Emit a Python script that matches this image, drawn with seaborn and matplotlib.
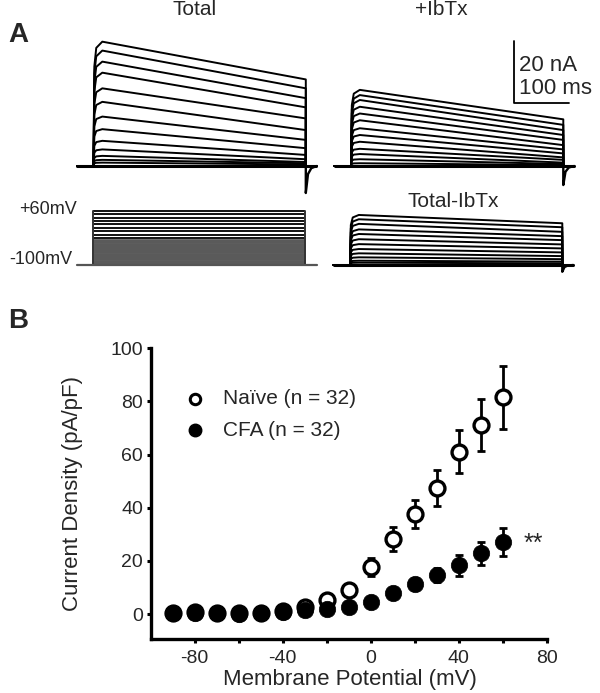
import numpy as np
import pandas as pd
import matplotlib
matplotlib.use("Agg")
import matplotlib.pyplot as plt
import seaborn as sns

# ---------------- data ----------------
# Panel B: I-V relationship
potential_mv = [-90, -80, -70, -60, -50, -40, -30, -20, -10, 0, 10, 20, 30, 40, 50, 60]
naive_mean = [0.5, 0.6, 0.4, 0.4, 0.5, 1.0, 2.6, 5.3, 9.0, 17.8, 28.2, 37.5, 47.5, 61.1, 71.1, 81.6]
naive_sem = [0.3, 0.3, 0.3, 0.3, 0.3, 0.4, 0.8, 1.2, 1.6, 3.3, 4.5, 5.3, 6.7, 8.1, 9.9, 11.8]
cfa_mean = [0.3, 0.4, 0.3, 0.2, 0.3, 0.8, 1.5, 2.0, 2.8, 4.6, 7.8, 11.2, 14.7, 18.4, 22.8, 27.2]
cfa_sem = [0.3, 0.3, 0.3, 0.3, 0.3, 0.4, 0.6, 0.8, 1.0, 1.2, 1.8, 2.3, 2.5, 3.9, 4.5, 5.2]
legend_labels = ["Naïve (n = 32)", "CFA (n = 32)"]
x_ticks = [-80, -60, -40, -20, 0, 20, 40, 60, 80]
x_tick_labels = ["-80", "", "-40", "", "0", "", "40", "", "80"]
y_ticks = [0, 20, 40, 60, 80, 100]

# Panel A: current traces (nA) - peak and end-of-pulse amplitudes
total_peak = [40.5, 37.6, 34.0, 30.4, 25.3, 20.9, 16.1, 12.0, 8.2, 5.4, 3.3, 2.0, 1.1]
total_end = [28.2, 25.3, 22.1, 19.1, 15.5, 11.7, 8.5, 5.8, 3.6, 2.2, 1.3, 0.9, 0.5]
ibtx_peak = [24.8, 23.1, 21.5, 19.3, 17.1, 14.9, 12.3, 10.1, 7.9, 5.6, 3.9, 2.2, 0.9]
ibtx_end = [15.2, 13.4, 11.7, 10.1, 8.5, 6.8, 5.4, 4.1, 2.8, 2.0, 1.1, 0.65, 0.3]
diff_peak = [16.3, 14.9, 13.4, 11.6, 10.1, 8.4, 6.8, 5.2, 3.8, 2.5, 1.4, 0.75]
diff_end = [13.6, 12.3, 10.8, 9.4, 8.1, 6.7, 5.4, 4.1, 2.9, 1.9, 1.1, 0.55]
tail_na = {"total": -8.8, "ibtx": -6.2, "diff": -2.2}
pulse_ms = 386
holding_mv = -100
step_mv = [-90, -80, -70, -60, -50, -40, -30, -20, -10, 0, 10, 20, 30, 40, 50, 60]

# ---------------- style ----------------
sns.set_theme(style="ticks")
plt.rcParams["font.family"] = ["Liberation Sans", "DejaVu Sans"]
plt.rcParams["axes.unicode_minus"] = False

W, H = 600, 693
fig = plt.figure(figsize=(W / 100, H / 100), dpi=100)

PX_MS = 0.55   # px per ms
PX_NA = 3.07   # px per nA
PX_MV = 0.3375 # px per mV


def px_axes(x0, x1, y0, y1):
    return fig.add_axes([x0 / W, 1 - y1 / H, (x1 - x0) / W, (y1 - y0) / H])


def trace_axes(x0, x1, y0, y1, onset_px, base_px):
    ax = px_axes(x0, x1, y0, y1)
    ax.set_xlim((x0 - onset_px) / PX_MS, (x1 - onset_px) / PX_MS)
    ax.set_ylim((base_px - y1) / PX_NA, (base_px - y0) / PX_NA)
    ax.axis("off")
    return ax


def draw_traces(ax, peaks, ends, tail):
    for pk, en in zip(peaks, ends):
        t = [-30, 0, 1.5, 5, 16, pulse_ms, pulse_ms, 405]
        i = [0, 0, 0.8 * pk, 0.95 * pk, pk, en, 0, 0]
        ax.plot(t, i, color="black", lw=1.4, solid_joinstyle="round")
    ax.plot([pulse_ms, pulse_ms, pulse_ms + 4, pulse_ms + 10, pulse_ms + 20],
            [0, tail, tail * 0.3, tail * 0.08, 0], color="black", lw=1.7)
    ax.plot([-30, 405], [0, 0], color="black", lw=2.2)


ax_tot = trace_axes(60, 320, 25, 200, 93.5, 166)
draw_traces(ax_tot, total_peak, total_end, tail_na["total"])

ax_ib = trace_axes(325, 600, 25, 200, 351, 166)
draw_traces(ax_ib, ibtx_peak, ibtx_end, tail_na["ibtx"])
# scale bar
sb_x, sb_y = (514 - 351) / PX_MS, (166 - 102.7) / PX_NA
ax_ib.plot([sb_x, sb_x, sb_x + 100], [sb_y + 20, sb_y, sb_y], color="black", lw=1.3,
           clip_on=False)
ax_ib.text(sb_x + 9, sb_y + 10.2, "20 nA", fontsize=16, va="baseline", ha="left", clip_on=False)
ax_ib.text(sb_x + 9, sb_y + 2.8, "100 ms", fontsize=16, va="baseline", ha="left", clip_on=False)

ax_df = trace_axes(325, 600, 205, 285, 350, 265)
draw_traces(ax_df, diff_peak, diff_end, tail_na["diff"])

# voltage protocol
ax_v = px_axes(60, 320, 200, 272)
ax_v.set_xlim((60 - 92.7) / PX_MS, (320 - 92.7) / PX_MS)
ax_v.set_ylim(holding_mv - 7 / PX_MV, holding_mv + 65 / PX_MV)
ax_v.axis("off")
for v in step_mv:
    dark = v > -30
    ax_v.plot([0, pulse_ms], [v, v], color="black" if dark else "#5a5a5a",
              lw=1.3 if dark else 3.4, solid_capstyle="butt")
ax_v.plot([0, 0], [holding_mv, max(step_mv)], color="#333333", lw=1.4)
ax_v.plot([pulse_ms, pulse_ms], [holding_mv, max(step_mv)], color="#333333", lw=1.4)
ax_v.plot([-29, 407], [holding_mv, holding_mv], color="#555555", lw=1.6)

fig.text(77 / W, 1 - 209 / H, "+60mV", fontsize=13, ha="right", va="center")
fig.text(72 / W, 1 - 260 / H, "-100mV", fontsize=13, ha="right", va="center")

fig.text(195 / W, 1 - 15 / H, "Total", fontsize=15, ha="center", va="baseline")
fig.text(441.5 / W, 1 - 15 / H, "+IbTx", fontsize=15, ha="center", va="baseline")
fig.text(453.5 / W, 1 - 207 / H, "Total-IbTx", fontsize=15, ha="center", va="baseline")

fig.text(8 / W, 1 - 42 / H, "A", fontsize=20, fontweight="bold", ha="left", va="baseline")
fig.text(8 / W, 1 - 328 / H, "B", fontsize=20, fontweight="bold", ha="left", va="baseline")

# ---------------- panel B ----------------
axb = px_axes(150.7, 546.7, 348.3, 639.3)
df_n = pd.DataFrame({"mv": potential_mv, "cd": naive_mean, "err": naive_sem})
df_c = pd.DataFrame({"mv": potential_mv, "cd": cfa_mean, "err": cfa_sem})

axb.errorbar(df_n["mv"], df_n["cd"], yerr=df_n["err"], fmt="none", ecolor="black",
             elinewidth=2, capsize=3, capthick=2, zorder=2)
sns.scatterplot(data=df_n, x="mv", y="cd", ax=axb, marker="o", s=115,
                facecolor="white", edgecolor="black", linewidth=2.4, zorder=3)
axb.errorbar(df_c["mv"], df_c["cd"], yerr=df_c["err"], fmt="none", ecolor="black",
             elinewidth=2, capsize=3, capthick=2, zorder=4)
sns.scatterplot(data=df_c, x="mv", y="cd", ax=axb, marker="o", s=140,
                color="black", edgecolor="black", linewidth=0.5, zorder=5)

axb.set_xlim(-100, 80)
axb.set_ylim(-9.5, 100)
axb.set_xticks(x_ticks)
axb.set_xticklabels(x_tick_labels)
axb.set_yticks(y_ticks)
axb.tick_params(axis="both", labelsize=14, width=2.2, length=3, color="black")
axb.tick_params(axis="x", pad=4.5)
axb.tick_params(axis="y", pad=2.5)
for s in ["left", "bottom"]:
    axb.spines[s].set_linewidth(2.4)
    axb.spines[s].set_color("black")
sns.despine(ax=axb)
axb.set_xlabel("Membrane Potential (mV)", fontsize=16)
axb.set_ylabel("Current Density (pA/pF)", fontsize=16)
axb.xaxis.set_label_coords(0.503, -0.101)
axb.yaxis.set_label_coords(-0.171, 0.501)

# legend
axb.plot([0.112], [0.826], transform=axb.transAxes, marker="o", ms=7.5, mfc="white",
         mec="black", mew=2.2, ls="none")
axb.plot([0.112], [0.719], transform=axb.transAxes, marker="o", ms=9, color="black", ls="none")
axb.text(0.183, 0.826, legend_labels[0], transform=axb.transAxes, fontsize=15, va="center")
axb.text(0.183, 0.719, legend_labels[1], transform=axb.transAxes, fontsize=15, va="center")
axb.text(69.5, 26.5, "**", fontsize=18, ha="left", va="center")

fig.savefig("out.png", dpi=100)
